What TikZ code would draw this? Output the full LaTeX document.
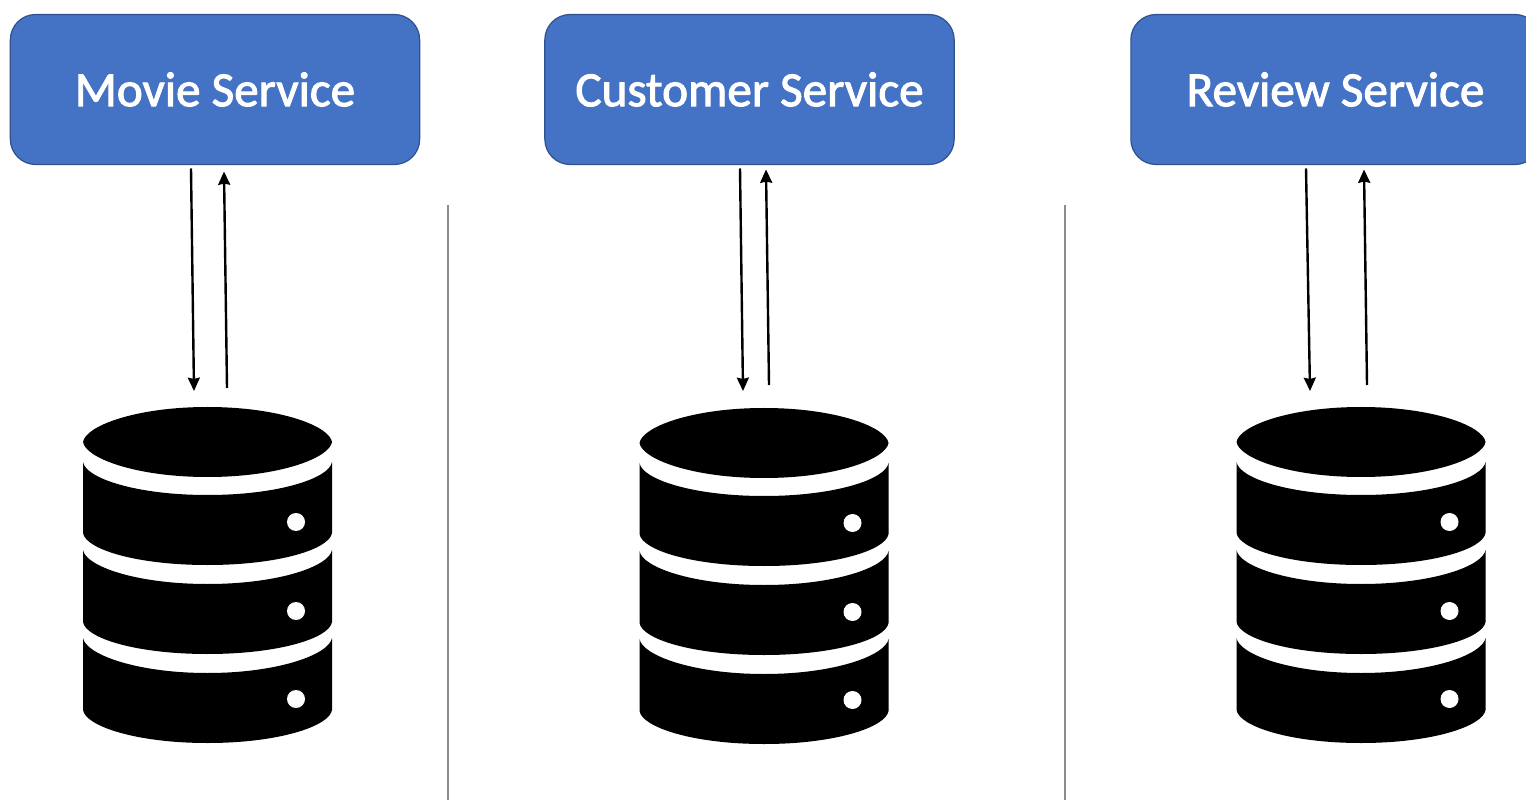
\documentclass[tikz,border=0pt]{standalone}
\usepackage{fontspec}
\setmainfont{Carlito}
\newfontfamily\servicefont[RawFeature={embolden=2}]{Carlito}
\usetikzlibrary{arrows.meta}
\definecolor{boxblue}{HTML}{4472C4}
\definecolor{boxedge}{HTML}{2F528F}
\definecolor{dividergray}{HTML}{8C8C8C}
\begin{document}
\begin{tikzpicture}[x=0.75pt,y=0.75pt,
			service/.style={draw=boxedge,line width=0.9pt,fill=boxblue,rounded corners=19pt,
				minimum width=307pt,minimum height=112.5pt,inner sep=0pt,outer sep=0pt,
				text=white,font=\servicefont\fontsize{36.9}{44}\selectfont},
			flow/.style={line width=1.8pt,-{Stealth[length=10pt,width=9pt,inset=1pt]}},
			divider/.style={dividergray,line width=2.2pt},
			dbicon/.pic={
				\coordinate (-top) at (0,35);
				\fill (-124.5,0) .. controls (-122,16) and (-72,35) .. (0,35) .. controls (72,35) and (122,16) .. (124.5,0) .. controls (122,-16) and (72,-35) .. (0,-35) .. controls (-72,-35) and (-122,-16) .. (-124.5,0) -- cycle;
				\fill (-124.5,-20) .. controls (-122,-36) and (-72,-53) .. (0,-53) .. controls (72,-53) and (122,-36) .. (124.5,-20) -- (124.5,-91) .. controls (122,-107) and (72,-123) .. (0,-123) .. controls (-72,-123) and (-122,-107) .. (-124.5,-91) -- cycle;
				\fill (-124.5,-108) .. controls (-122,-124) and (-72,-142) .. (0,-142) .. controls (72,-142) and (122,-124) .. (124.5,-108) -- (124.5,-180) .. controls (122,-196) and (72,-212) .. (0,-212) .. controls (-72,-212) and (-122,-196) .. (-124.5,-180) -- cycle;
				\fill (-124.5,-196) .. controls (-122,-212) and (-72,-231) .. (0,-231) .. controls (72,-231) and (122,-212) .. (124.5,-196) -- (124.5,-268) .. controls (122,-284) and (72,-301) .. (0,-301) .. controls (-72,-301) and (-122,-284) .. (-124.5,-268) -- cycle;
				\fill[white] (88.5,-80) circle [radius=9];
				\fill[white] (88.5,-169) circle [radius=9];
				\fill[white] (88.5,-257) circle [radius=9];
			}]
			\clip (0,0) rectangle (1526,800);
			\node[service] (movie) at (215,710.5) {Movie Service};
			\node[service] (customer) at (749.5,710.5) {Customer Service};
			\node[service] (review) at (1335.5,710.5) {Review Service};
			\pic (moviedb) at (207.5,358) {dbicon};
			\pic (customerdb) at (764,357) {dbicon};
			\pic (reviewdb) at (1361,358) {dbicon};
			\draw[flow] ([shift={(-24,-4)}]movie.south) -- ([shift={(-13.5,16)}]moviedb-top);
			\draw[flow] ([shift={(19.5,19)}]moviedb-top) -- ([shift={(9,-7)}]movie.south);
			\draw[flow] ([shift={(-9.5,-4)}]customer.south) -- ([shift={(-21,17)}]customerdb-top);
			\draw[flow] ([shift={(5,23)}]customerdb-top) -- ([shift={(16.5,-5)}]customer.south);
			\draw[flow] ([shift={(-29.5,-4)}]review.south) -- ([shift={(-51,16)}]reviewdb-top);
			\draw[flow] ([shift={(6,22)}]reviewdb-top) -- ([shift={(28.5,-5)}]review.south);
			\coordinate (leftdividertop) at (448,595);
			\coordinate (leftdividerbottom) at (448,0);
			\coordinate (rightdividertop) at (1065,595);
			\coordinate (rightdividerbottom) at (1065,0);
			\draw[divider] (leftdividertop) -- (leftdividerbottom);
			\draw[divider] (rightdividertop) -- (rightdividerbottom);
\end{tikzpicture}
\end{document}
